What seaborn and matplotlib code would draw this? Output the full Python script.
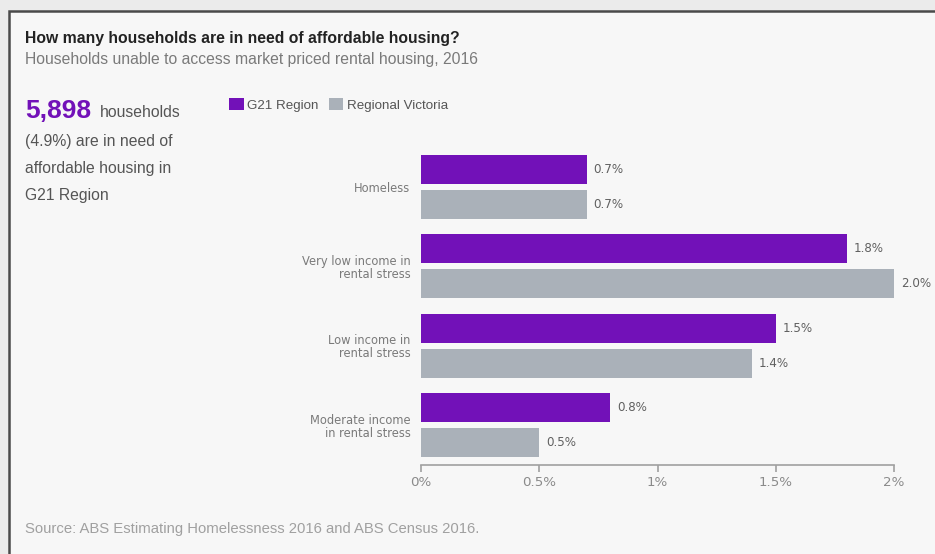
import matplotlib
matplotlib.use("Agg")
import matplotlib.pyplot as plt
import seaborn as sns
import pandas as pd
from matplotlib.patches import Rectangle

# ---- data ----
categories = ["Homeless", "Very low income in\nrental stress",
              "Low income in\nrental stress", "Moderate income\nin rental stress"]
series_names = ["G21 Region", "Regional Victoria"]
g21_values = [0.7, 1.8, 1.5, 0.8]
vic_values = [0.7, 2.0, 1.4, 0.5]
x_ticks = [0, 0.5, 1, 1.5, 2]
x_tick_labels = ["0%", "0.5%", "1%", "1.5%", "2%"]

PURPLE = "#7211b8"
GREY = "#aab1b9"

sns.set_theme(style="white")
plt.rcParams['font.family'] = ['Liberation Sans', 'DejaVu Sans']
CHART_FONT = ['DejaVu Sans']

df = pd.DataFrame({
    "category": categories * 2,
    "series": [series_names[0]] * len(categories) + [series_names[1]] * len(categories),
    "value": g21_values + vic_values,
})

W, H = 935, 554
fig = plt.figure(figsize=(W / 100, H / 100), dpi=100)
fig.patch.set_facecolor("#ebebeb")


def fx(x):
    return x / W


def fy(y):
    return 1 - y / H


# frame (only top and left edge visible in reference)
fig.patches.append(Rectangle((fx(9), -0.2), 1.3, fy(11) + 0.2, transform=fig.transFigure,
                             facecolor="#f7f7f7", edgecolor="#4a4a4a", lw=1.8, zorder=-5))

ax = fig.add_axes([fx(421), fy(465), fx(894) - fx(421), fy(147) - fy(465)])
ax.set_facecolor("none")

sns.barplot(data=df, y="category", x="value", hue="series", orient="h",
            palette=[PURPLE, GREY], saturation=1, width=0.88, gap=0.17,
            linewidth=0, legend=False, ax=ax)

ax.set_xlim(0, 2)
ax.set_ylim(3.5, -0.5)
ax.set_xticks(x_ticks)
ax.set_xticklabels(x_tick_labels, family=CHART_FONT)
ax.set_yticks(range(len(categories)))
ax.set_yticklabels(categories, family=CHART_FONT, linespacing=1.0)
ax.set_xlabel("")
ax.set_ylabel("")
for s in ["top", "right", "left"]:
    ax.spines[s].set_visible(False)
ax.spines["bottom"].set_color("#a0a0a0")
ax.spines["bottom"].set_linewidth(1.2)
ax.tick_params(axis="x", direction="out", length=5, width=1.2, color="#a0a0a0",
               labelcolor="#8a8a8a", labelsize=9.6, pad=3, bottom=True)
ax.tick_params(axis="y", length=0, labelcolor="#7a7a7a", labelsize=8.3, pad=7.5)

for cont in ax.containers:
    anns = ax.bar_label(cont, fmt="%.1f%%", padding=5, fontsize=8.6, color="#606060",
                        family=CHART_FONT)
    for a in anns:
        a.set_annotation_clip(False)

# ---- texts ----
fig.text(fx(25), fy(43), "How many households are in need of affordable housing?",
         fontsize=11.3, fontweight="bold", color="#222222", va="baseline")
fig.text(fx(25), fy(64), "Households unable to access market priced rental housing, 2016",
         fontsize=11.3, color="#7a7a7a", va="baseline")

fig.text(fx(25), fy(118), "5,898", fontsize=19, fontweight="bold", color=PURPLE, va="baseline")
fig.text(fx(100), fy(117), "households", fontsize=11.3, color="#555555", va="baseline")
fig.text(fx(25), fy(146), "(4.9%) are in need of", fontsize=11.3, color="#555555", va="baseline")
fig.text(fx(25), fy(173), "affordable housing in", fontsize=11.3, color="#555555", va="baseline")
fig.text(fx(25), fy(200), "G21 Region", fontsize=11.3, color="#555555", va="baseline")

# legend
fig.patches.append(Rectangle((fx(229), fy(110)), fx(15), 12 / H, transform=fig.transFigure,
                             facecolor=PURPLE, edgecolor="none"))
fig.text(fx(247), fy(109), series_names[0], fontsize=9.6, color="#555555", va="baseline")
fig.patches.append(Rectangle((fx(329), fy(110)), fx(14), 12 / H, transform=fig.transFigure,
                             facecolor=GREY, edgecolor="none"))
fig.text(fx(347), fy(109), series_names[1], fontsize=9.6, color="#555555", va="baseline")

fig.text(fx(25), fy(533), "Source: ABS Estimating Homelessness 2016 and ABS Census 2016.",
         fontsize=10.7, color="#a0a0a0", va="baseline")

fig.savefig("out.png", dpi=100, facecolor=fig.get_facecolor())
